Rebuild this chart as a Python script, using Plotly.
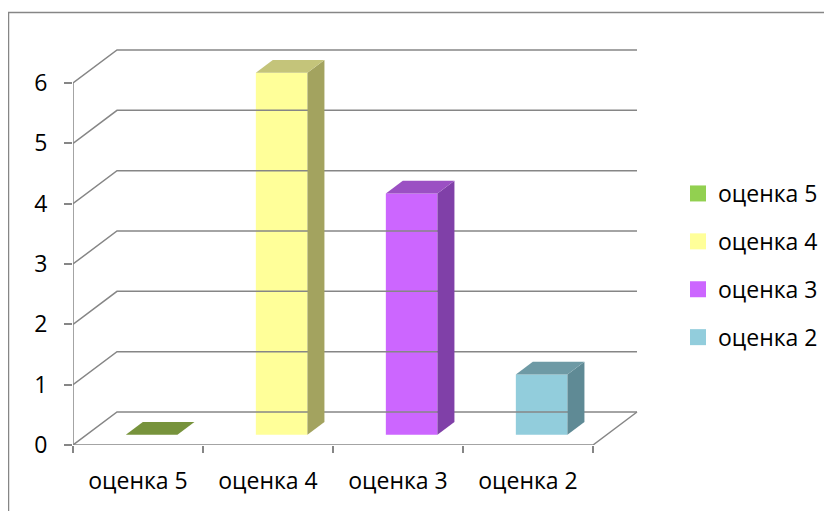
import plotly.graph_objects as go

# ---- data ----
categories = ["оценка 5", "оценка 4", "оценка 3", "оценка 2"]
values = [0, 6, 4, 1]
y_ticks = [0, 1, 2, 3, 4, 5, 6]

front_colors = ["#92D050", "#FFFF99", "#CC66FF", "#92CDDC"]
top_colors = ["#77933C", "#C4C47A", "#9B50C3", "#6E9AA5"]
side_colors = ["#5F7A30", "#A3A35F", "#8040A8", "#5F8A95"]

# ---- 3D oblique projection parameters (in axis units) ----
PX_X = 130.0          # px per category
PX_Y = 60.333         # px per value unit
DX = 44 / PX_X        # depth offset of back wall, x
DY = 33 / PX_Y        # depth offset of back wall, y
F_FRONT = 0.31
F_BACK = 0.696
BAR_W = 0.397
N = len(categories)
X_MAX = 4.4
Y_MAX = 405 / PX_Y
PAGE_OFF = 8          # browser body margin

GRID = "#868686"
FONT = "Open Sans"
FS = 23

fig = go.Figure()

# gridlines in perspective (left wall diagonal + back wall horizontal)
for v in y_ticks:
    fig.add_trace(go.Scatter(
        x=[0, DX, N + DX], y=[v, v + DY, v + DY], mode="lines",
        line=dict(color=GRID, width=1.5), hoverinfo="skip", showlegend=False))
# floor front edge + right edge, front left vertical edge
fig.add_trace(go.Scatter(
    x=[0, N, N + DX], y=[0, 0, DY], mode="lines",
    line=dict(color=GRID, width=1.5), hoverinfo="skip", showlegend=False))
fig.add_trace(go.Scatter(
    x=[0, 0], y=[0, max(y_ticks)], mode="lines",
    line=dict(color=GRID, width=1.5), hoverinfo="skip", showlegend=False))

# bars
for i, (cat, v) in enumerate(zip(categories, values)):
    cx = i + 0.5 + F_FRONT * DX
    base = F_FRONT * DY
    x0, x1 = cx - BAR_W / 2, cx + BAR_W / 2
    ddx = (F_BACK - F_FRONT) * DX
    ddy = (F_BACK - F_FRONT) * DY
    # front face
    fig.add_trace(go.Bar(
        x=[cx], y=[v], base=[base], width=[BAR_W],
        marker=dict(color=front_colors[i], line=dict(width=0)),
        name=cat, showlegend=False, hoverinfo="skip"))
    # side face
    if v > 0:
        fig.add_trace(go.Scatter(
            x=[x1, x1 + ddx, x1 + ddx, x1, x1],
            y=[base, base + ddy, base + v + ddy, base + v, base],
            fill="toself", fillcolor=side_colors[i], mode="lines",
            line=dict(width=0, color=side_colors[i]),
            hoverinfo="skip", showlegend=False))
    # top face
    fig.add_trace(go.Scatter(
        x=[x0, x1, x1 + ddx, x0 + ddx, x0],
        y=[base + v, base + v, base + v + ddy, base + v + ddy, base + v],
        fill="toself", fillcolor=top_colors[i], mode="lines",
        line=dict(width=0, color=top_colors[i]),
        hoverinfo="skip", showlegend=False))

# legend entries
for i, cat in enumerate(categories):
    fig.add_trace(go.Scatter(
        x=[None], y=[None], mode="markers", name=cat, legendgroup=cat,
        marker=dict(symbol="square", size=16, color=front_colors[i]),
        showlegend=True))

PLOT_W = X_MAX * PX_X
L = 73 - PAGE_OFF
T = 40 - PAGE_OFF
B = 511 - T - 405

fig.update_layout(
    width=832, height=511,
    margin=dict(l=L, r=832 - L - int(PLOT_W), t=T, b=B),
    paper_bgcolor="white", plot_bgcolor="white",
    barmode="overlay",
    font=dict(family=FONT, size=FS, color="black"),
    xaxis=dict(
        range=[0, X_MAX], showgrid=False, zeroline=False, showline=False,
        tickvals=[i + 0.5 for i in range(N)], ticktext=categories,
        ticks="", ticklabelstandoff=20,
        minor=dict(tickvals=list(range(N + 1)), ticks="outside", ticklen=7,
                   tickwidth=1.5, tickcolor=GRID, showgrid=False),
        fixedrange=True),
    yaxis=dict(
        range=[0, Y_MAX], showgrid=False, zeroline=False, showline=False,
        tickvals=y_ticks, ticks="outside", ticklen=8, tickwidth=1.5,
        tickcolor=GRID, ticklabelstandoff=12, fixedrange=True),
    legend=dict(
        x=(678 - 73) / PLOT_W, y=(445 - 172) / 405,
        xanchor="left", yanchor="top", tracegroupgap=15,
        font=dict(family=FONT, size=FS), bgcolor="rgba(0,0,0,0)"),
    shapes=[dict(type="rect", xref="paper", yref="paper",
                 x0=(8.5 - 73) / PLOT_W, x1=1.5,
                 y0=-0.3, y1=(445 - 12.5) / 405,
                 line=dict(color=GRID, width=1.5), layer="below")],
    showlegend=True,
)

fig.write_html("out.html")
